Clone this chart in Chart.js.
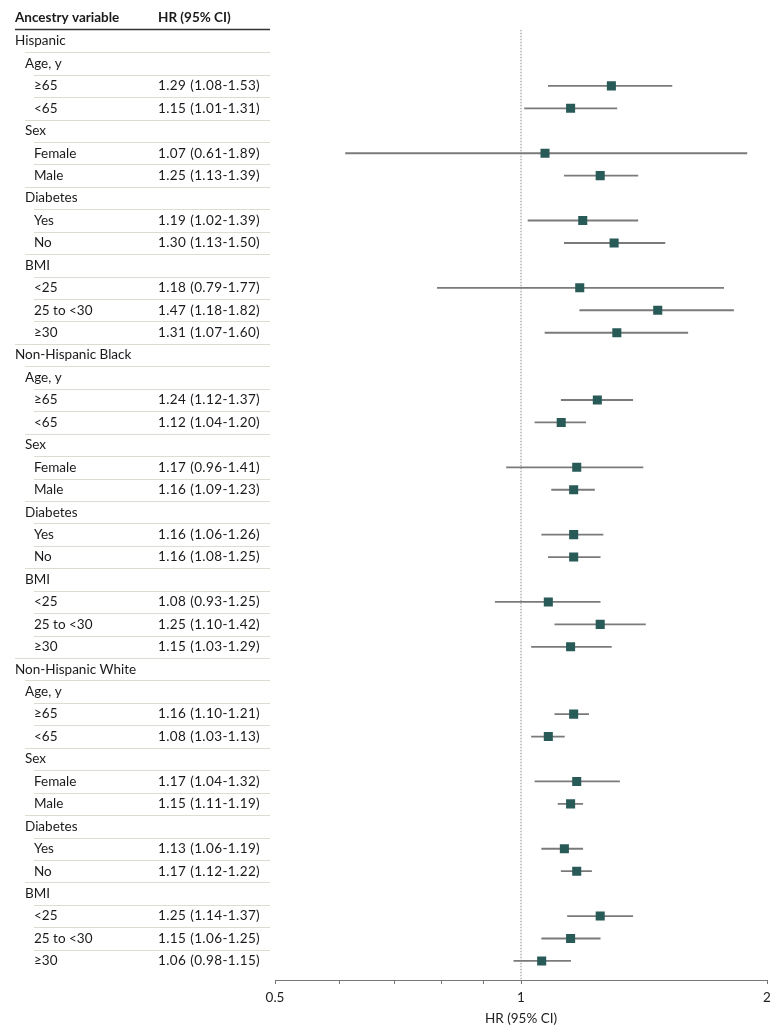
<!DOCTYPE html>
<html>
<head>
<meta charset="utf-8">
<script src="https://cdn.jsdelivr.net/npm/chart.js@4.4.1/dist/chart.umd.min.js"></script>
<style>
html,body{margin:0;padding:0;background:#fff;}
canvas{display:block;}
</style>
</head>
<body>
<canvas id="c" width="780" height="1036"></canvas>
<script>
// ---- data ----
const groups = ["Hispanic", "Non-Hispanic Black", "Non-Hispanic White"];
const subLabels = ["Age, y", "≥65", "<65", "Sex", "Female", "Male", "Diabetes", "Yes", "No", "BMI", "<25", "25 to <30", "≥30"];
const subLevels = [1, 2, 2, 1, 2, 2, 1, 2, 2, 1, 2, 2, 2];

const hispanicHR   = [null, 1.29, 1.15, null, 1.07, 1.25, null, 1.19, 1.30, null, 1.18, 1.47, 1.31];
const hispanicLow  = [null, 1.08, 1.01, null, 0.61, 1.13, null, 1.02, 1.13, null, 0.79, 1.18, 1.07];
const hispanicHigh = [null, 1.53, 1.31, null, 1.89, 1.39, null, 1.39, 1.50, null, 1.77, 1.82, 1.60];

const blackHR   = [null, 1.24, 1.12, null, 1.17, 1.16, null, 1.16, 1.16, null, 1.08, 1.25, 1.15];
const blackLow  = [null, 1.12, 1.04, null, 0.96, 1.09, null, 1.06, 1.08, null, 0.93, 1.10, 1.03];
const blackHigh = [null, 1.37, 1.20, null, 1.41, 1.23, null, 1.26, 1.25, null, 1.25, 1.42, 1.29];

const whiteHR   = [null, 1.16, 1.08, null, 1.17, 1.15, null, 1.13, 1.17, null, 1.25, 1.15, 1.06];
const whiteLow  = [null, 1.10, 1.03, null, 1.04, 1.11, null, 1.06, 1.12, null, 1.14, 1.06, 0.98];
const whiteHigh = [null, 1.21, 1.13, null, 1.32, 1.19, null, 1.19, 1.22, null, 1.37, 1.25, 1.15];

const xTickValues = [0.5, 0.6, 0.7, 0.8, 0.9, 1, 2];
const xTickLabels = {0.5: "0.5", 1: "1", 2: "2"};
const refValue = 1;

// ---- build rows ----
const groupHR = [hispanicHR, blackHR, whiteHR];
const groupLow = [hispanicLow, blackLow, whiteLow];
const groupHigh = [hispanicHigh, blackHigh, whiteHigh];
const rows = [];
groups.forEach((g, gi) => {
  rows.push({label: g, level: 0, hr: null, lo: null, hi: null});
  subLabels.forEach((s, si) => {
    rows.push({label: s, level: subLevels[si], hr: groupHR[gi][si], lo: groupLow[gi][si], hi: groupHigh[gi][si]});
  });
});
const nRows = rows.length;
const yMin = -0.5, yMax = nRows - 1 + 0.85;

const FONT = "Lato";
const indentX = [15, 25, 34];
const hrColX = 158;
const tableRight = 270;

const tablePlugin = {
  id: 'table',
  afterDraw(chart) {
    const ctx = chart.ctx;
    const ys = chart.scales.y;
    ctx.save();
    // header
    ctx.fillStyle = '#1a1a1a';
    ctx.font = `bold 13.5px ${FONT}`;
    ctx.textBaseline = 'middle';
    ctx.textAlign = 'left';
    ctx.fillText("Ancestry variable", 15, 18);
    ctx.fillText("HR (95% CI)", hrColX, 18);
    ctx.strokeStyle = '#333';
    ctx.lineWidth = 1.5;
    ctx.beginPath();
    ctx.moveTo(15, 29.5); ctx.lineTo(tableRight, 29.5); ctx.stroke();
    // separators
    ctx.strokeStyle = '#dcdcd2';
    ctx.lineWidth = 1;
    for (let i = 1; i < nRows; i++) {
      const y = Math.round((ys.getPixelForValue(i - 1) + ys.getPixelForValue(i)) / 2) + 0.5;
      ctx.beginPath();
      ctx.moveTo(indentX[rows[i].level], y); ctx.lineTo(tableRight, y); ctx.stroke();
    }
    // rows
    ctx.font = `13.5px ${FONT}`;
    ctx.fillStyle = '#1a1a1a';
    rows.forEach((r, i) => {
      const y = ys.getPixelForValue(i);
      ctx.letterSpacing = '0px';
      ctx.fillText(r.label, indentX[r.level], y);
      if (r.hr !== null) {
        ctx.letterSpacing = '0.4px';
        ctx.fillText(`${r.hr.toFixed(2)} (${r.lo.toFixed(2)}-${r.hi.toFixed(2)})`, hrColX, y);
      }
    });
    ctx.restore();
  }
};

const pointData = [], ciData = [];
rows.forEach((r, i) => {
  if (r.hr !== null) {
    pointData.push({x: r.hr, y: i});
    ciData.push({x: [r.lo, r.hi], y: i});
  }
});

new Chart(document.getElementById('c'), {
  data: {
    datasets: [
      {
        type: 'line',
        data: [{x: refValue, y: yMin}, {x: refValue, y: yMax}],
        borderColor: '#8a8a8a',
        borderWidth: 1,
        borderDash: [1.5, 1.5],
        pointRadius: 0,
        order: 3
      },
      {
        type: 'bar',
        indexAxis: 'y',
        data: ciData,
        backgroundColor: '#7a7a7a',
        borderWidth: 0,
        barThickness: 1.2,
        order: 2
      },
      {
        type: 'scatter',
        data: pointData,
        pointStyle: 'rect',
        pointRadius: 6.4,
        backgroundColor: '#285a58',
        borderWidth: 0,
        order: 1
      }
    ]
  },
  options: {
    responsive: false,
    animation: false,
    events: [],
    layout: {padding: {left: 275, right: 13, top: 29.8, bottom: 0}},
    plugins: {legend: {display: false}, tooltip: {enabled: false}},
    scales: {
      x: {
        type: 'logarithmic',
        position: 'bottom',
        min: 0.5,
        max: 2,
        offset: false,
        afterBuildTicks(scale) {
          scale.ticks = xTickValues.map(v => ({value: v}));
        },
        afterFit(scale) {
          scale.height = 56;
          scale.paddingLeft = 0;
          scale.paddingRight = 0;
        },
        ticks: {
          autoSkip: false,
          maxRotation: 0,
          color: '#222',
          font: {family: FONT, size: 13.5},
          padding: 6,
          callback(v) { return xTickLabels[v] || ''; }
        },
        grid: {
          offset: false,
          drawOnChartArea: false,
          drawTicks: true,
          tickLength: 4,
          color: '#777'
        },
        border: {color: '#777', width: 1},
        title: {
          display: true,
          text: 'HR (95% CI)',
          color: '#222',
          font: {family: FONT, size: 13.5},
          padding: {top: 0, bottom: 9}
        }
      },
      y: {
        type: 'linear',
        display: false,
        reverse: true,
        offset: false,
        grid: {offset: false},
        min: yMin,
        max: yMax
      }
    }
  },
  plugins: [tablePlugin]
});
</script>
</body>
</html>
